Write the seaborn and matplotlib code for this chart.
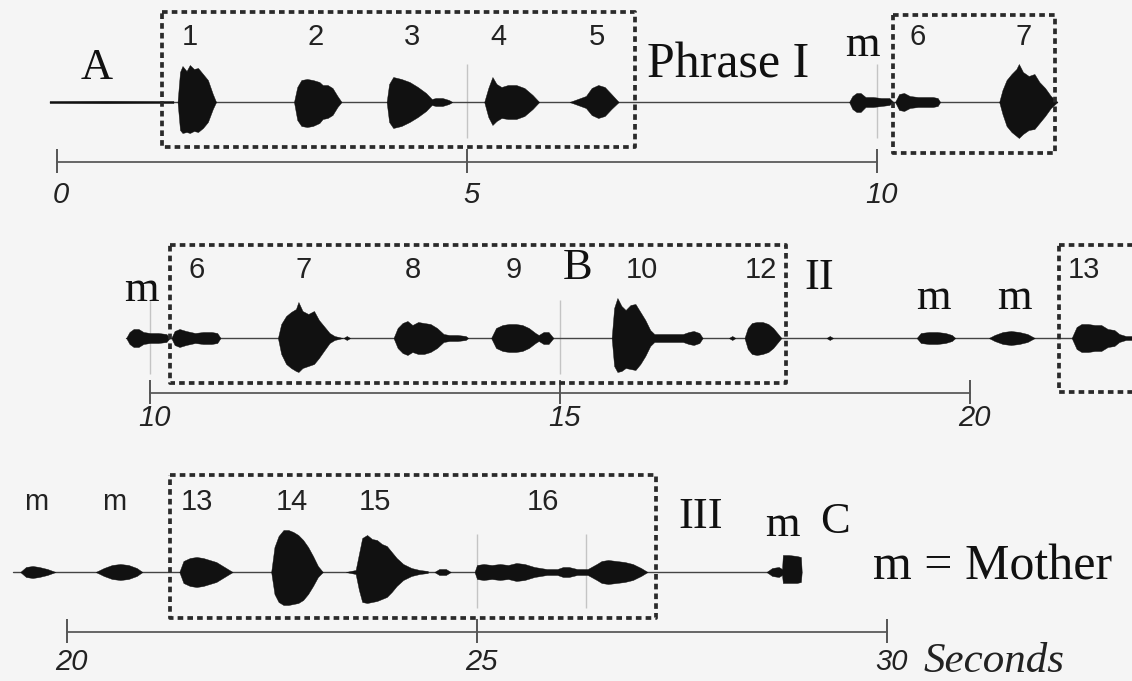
# pip install matplotlib seaborn numpy pandas
import matplotlib.pyplot as plt
import seaborn as sns

sns.set_theme(style="white")
plt.rcParams["font.family"] = ["Liberation Sans", "DejaVu Sans"]

# --- Sound envelopes: (time in s, upper amplitude, lower amplitude) ---
# amplitudes are relative units
row1_calls = [
    ([-0.09, 0.0, 0.6, 1.2, 1.42], [1.0, 1.0, 1.2, 1.0, 1.0], [1.0, 1.0, 1.2, 1.0, 1.0]),
    ([1.47, 1.50, 1.53, 1.58, 1.62, 1.67, 1.72, 1.78, 1.84, 1.90, 1.94],
     [0, 30, 36, 31, 37, 33, 34, 28, 22, 8, 0],
     [0, 28, 31, 30, 31, 29, 30, 26, 20, 7, 0]),
    ([2.89, 2.93, 2.98, 3.05, 3.12, 3.20, 3.24, 3.30, 3.36, 3.42, 3.47],
     [0, 15, 22, 23, 22, 20, 17, 17, 14, 6, 0],
     [0, 18, 24, 25, 24, 21, 17, 16, 13, 5, 0]),
    ([4.02, 4.05, 4.10, 4.20, 4.30, 4.40, 4.50, 4.57, 4.62, 4.70, 4.78, 4.82],
     [0, 18, 25, 23, 20, 15, 9, 3, 4, 4, 2, 0],
     [0, 20, 26, 24, 20, 15, 9, 3, 4, 4, 2, 0]),
    ([5.21, 5.26, 5.31, 5.36, 5.42, 5.50, 5.60, 5.70, 5.80, 5.88],
     [0, 14, 25, 18, 15, 17, 17, 14, 7, 0],
     [0, 15, 23, 19, 16, 17, 17, 14, 7, 0]),
    ([6.25, 6.35, 6.45, 6.52, 6.60, 6.68, 6.76, 6.85],
     [0, 3, 6, 14, 17, 15, 8, 0],
     [0, 3, 6, 13, 16, 14, 7, 0]),
    ([9.66, 9.70, 9.75, 9.80, 9.86, 9.95, 10.05, 10.15, 10.20],
     [0, 6, 9, 9, 5, 5, 4, 4, 0],
     [0, 7, 10, 10, 5, 5, 4, 3, 0]),
    ([10.22, 10.27, 10.33, 10.40, 10.50, 10.60, 10.68, 10.74, 10.77],
     [0, 8, 9, 6, 5, 5, 5, 4, 0],
     [0, 8, 9, 6, 5, 5, 5, 4, 0]),
    ([11.49, 11.53, 11.58, 11.64, 11.70, 11.73, 11.78, 11.85, 11.92, 11.98, 12.05, 12.12, 12.20],
     [0, 12, 22, 28, 33, 38, 30, 26, 28, 20, 14, 6, 0],
     [0, 12, 24, 30, 34, 36, 32, 28, 27, 21, 14, 6, 0]),
]

row2_calls = [
    ([9.71, 9.75, 9.80, 9.86, 9.92, 10.00, 10.10, 10.20, 10.24],
     [0, 6, 9, 9, 6, 5, 5, 4, 0],
     [0, 6, 9, 9, 6, 5, 5, 4, 0]),
    ([10.26, 10.30, 10.36, 10.44, 10.55, 10.65, 10.75, 10.82, 10.86],
     [0, 7, 9, 7, 5, 6, 6, 5, 0],
     [0, 7, 9, 7, 5, 6, 6, 5, 0]),
    ([11.56, 11.60, 11.66, 11.72, 11.78, 11.81, 11.86, 11.93, 12.00, 12.06, 12.12, 12.19, 12.25, 12.35],
     [0, 14, 22, 26, 29, 36, 27, 24, 27, 18, 12, 5, 2, 0],
     [0, 16, 26, 30, 33, 34, 30, 28, 26, 20, 13, 5, 2, 0]),
    ([12.36, 12.40, 12.44], [0, 2, 0], [0, 2, 0]),
    ([12.97, 13.02, 13.08, 13.14, 13.20, 13.27, 13.34, 13.42, 13.50, 13.58, 13.65, 13.75, 13.85, 13.88],
     [0, 10, 15, 17, 13, 16, 15, 14, 10, 4, 3, 3, 2, 0],
     [0, 10, 15, 17, 14, 16, 16, 14, 10, 4, 3, 3, 2, 0]),
    ([14.16, 14.22, 14.30, 14.38, 14.46, 14.54, 14.62, 14.70, 14.74, 14.80, 14.86, 14.92],
     [0, 10, 13, 14, 14, 13, 10, 5, 3, 6, 6, 0],
     [0, 10, 13, 14, 14, 13, 10, 5, 3, 6, 6, 0]),
    ([15.63, 15.66, 15.70, 15.75, 15.80, 15.86, 15.92, 15.98, 16.04, 16.10, 16.15, 16.30, 16.50, 16.57, 16.63, 16.70, 16.74],
     [0, 30, 40, 32, 28, 33, 34, 26, 18, 8, 4, 4, 4, 6, 7, 5, 0],
     [0, 28, 34, 33, 30, 31, 32, 26, 18, 8, 4, 4, 4, 6, 7, 5, 0]),
    ([17.06, 17.10, 17.14], [0, 2, 0], [0, 2, 0]),
    ([17.25, 17.29, 17.34, 17.40, 17.47, 17.54, 17.60, 17.66, 17.70],
     [0, 10, 15, 16, 16, 14, 10, 4, 0],
     [0, 11, 16, 17, 16, 14, 10, 4, 0]),
    ([18.25, 18.29, 18.33], [0, 2, 0], [0, 2, 0]),
    ([19.35, 19.40, 19.50, 19.60, 19.70, 19.78, 19.82],
     [0, 5, 6, 6, 5, 3, 0], [0, 5, 6, 6, 5, 3, 0]),
    ([20.23, 20.30, 20.40, 20.50, 20.60, 20.70, 20.79],
     [0, 3, 6, 7, 6, 4, 0], [0, 3, 6, 7, 6, 4, 0]),
    ([21.24, 21.30, 21.36, 21.44, 21.52, 21.60, 21.68, 21.76, 21.82, 21.90, 22.00],
     [0, 11, 14, 14, 13, 13, 9, 8, 4, 2, 2],
     [0, 11, 14, 14, 13, 13, 9, 8, 4, 2, 2]),
]

row3_calls = [
    ([19.43, 19.50, 19.58, 19.66, 19.76, 19.86], [0, 5, 6, 5, 3, 0], [0, 5, 6, 5, 3, 0]),
    ([20.35, 20.45, 20.55, 20.65, 20.75, 20.85, 20.92], [0, 4, 7, 8, 7, 4, 0], [0, 4, 7, 8, 7, 4, 0]),
    ([21.37, 21.42, 21.50, 21.58, 21.66, 21.74, 21.82, 21.90, 21.96, 22.02],
     [0, 11, 14, 15, 14, 12, 10, 6, 3, 0],
     [0, 11, 14, 15, 14, 12, 10, 6, 3, 0]),
    ([22.49, 22.53, 22.58, 22.64, 22.70, 22.76, 22.82, 22.88, 22.94, 23.00, 23.06, 23.12],
     [0, 25, 36, 42, 42, 40, 37, 32, 25, 16, 6, 0],
     [0, 22, 30, 33, 33, 32, 31, 28, 22, 14, 5, 0]),
    ([23.40, 23.52, 23.56, 23.60, 23.66, 23.72, 23.78, 23.84, 23.90, 23.96, 24.02, 24.10, 24.20, 24.30, 24.40],
     [0, 2, 18, 34, 37, 33, 32, 28, 26, 20, 14, 8, 4, 2, 1],
     [0, 2, 18, 30, 31, 30, 29, 27, 25, 20, 14, 8, 4, 2, 1]),
    ([24.48, 24.54, 24.62, 24.68], [0, 3, 3, 0], [0, 3, 3, 0]),
    ([24.97, 25.00, 25.08, 25.18, 25.28, 25.38, 25.48, 25.58, 25.70, 25.85, 25.98, 26.05, 26.12, 26.22,
      26.35, 26.46, 26.52, 26.60, 26.70, 26.80, 26.90, 27.00, 27.08],
     [0, 7, 8, 7, 8, 7, 9, 8, 5, 3, 3, 5, 5, 3, 3, 8, 11, 12, 11, 10, 8, 4, 0],
     [0, 7, 8, 7, 8, 7, 9, 8, 5, 3, 3, 5, 5, 3, 3, 8, 11, 12, 11, 10, 8, 4, 0]),
    ([28.53, 28.60, 28.68, 28.72, 28.73, 28.80, 28.90, 28.95, 28.96],
     [0, 4, 5, 3, 17, 17, 16, 15, 0],
     [0, 4, 5, 3, 11, 11, 11, 10, 0]),
]

# trace extent, time axis extent and tick values per row
row_trace = [(-0.09, 12.2), (9.71, 22.5), (19.34, 28.95)]
row_axis = [(0, 10), (10, 20), (20, 30)]
row_ticks = [[0, 5, 10], [10, 15, 20], [20, 25, 30]]
row_marks = [[5, 10], [10, 15], [25, 26.33]]

# phrase boxes: (start, end, top, bottom)
row_boxes = [
    [(1.28, 7.05, 90, -45), (10.2, 12.17, 87, -51)],
    [(10.24, 17.76, 93, -45), (21.09, 23.5, 93, -54)],
    [(21.26, 27.18, 97, -46)],
]

# call numbers (sans) and annotations (serif)
row_numbers = [
    [(1.62, "1"), (3.16, "2"), (4.33, "3"), (5.38, "4"), (6.59, "5"), (10.5, "6"), (11.79, "7")],
    [(10.57, "6"), (11.87, "7"), (13.2, "8"), (14.44, "9"), (16.0, "10"), (17.45, "12"), (21.39, "13")],
    [(19.62, "m"), (20.57, "m"), (21.59, "13"), (22.74, "14"), (23.76, "15"), (25.8, "16")],
]
row_notes = [
    [(0.48, 34, "A", "center"), (7.2, 37, "Phrase I", "left"), (9.82, 57, "m", "center")],
    [(9.89, 48, "m", "center"), (15.22, 70, "B", "center"), (18.16, 60, "II", "center"),
     (19.56, 40, "m", "center"), (20.54, 40, "m", "center")],
    [(27.73, 55, "III", "center"), (28.73, 47, "m", "center"), (29.37, 50, "C", "center"),
     (29.83, 5, "m = Mother", "left")],
]

# figure layout in pixels: top, bottom, baseline of each row; px per second
W, H = 1132, 681
PX_PER_S = 82.0
row_px = [(0, 227, 102, 57, 0), (227, 455, 338, 150, 10), (455, 681, 572, 67, 20)]
axis_off = [-60, -55, -60]
label_off = [-93, -80, -90]
number_y = [65, 68, 70]

serif = ["Liberation Serif", "DejaVu Serif"]
ink = "#111111"

fig = plt.figure(figsize=(W / 100, H / 100), dpi=100)
fig.patch.set_facecolor("#f5f5f5")
all_calls = [row1_calls, row2_calls, row3_calls]

for i, (top, bot, base, x0px, t0) in enumerate(row_px):
    ax = fig.add_axes([0, 1 - bot / H, 1, (bot - top) / H])
    ax.set_facecolor("#f5f5f5")
    ax.set_xlim(t0 - x0px / PX_PER_S, t0 + (W - x0px) / PX_PER_S)
    ax.set_ylim(-(bot - base), base - top)
    ax.axis("off")

    # faint cursor lines behind the trace
    for m in row_marks[i]:
        ax.vlines(m, -36, 38, color="#c4c4c4", lw=1, zorder=1)

    # baseline of the oscillogram
    sns.lineplot(x=list(row_trace[i]), y=[0, 0], ax=ax, color="#444444", lw=1, zorder=2)

    for t, up, lo in all_calls[i]:
        ax.fill_between(t, up, [-v for v in lo], color=ink, lw=0.3, edgecolor=ink, zorder=3)

    for s, e, y1, y2 in row_boxes[i]:
        ax.plot([s, e, e, s, s], [y1, y1, y2, y2, y1], color="#2a2a2a", lw=2.7,
                linestyle=(0, (1.5, 1.1)), zorder=4, clip_on=False)

    # time axis
    a0, a1 = row_axis[i]
    ya = axis_off[i]
    sns.lineplot(x=[a0, a1], y=[ya, ya], ax=ax, color="#666666", lw=1.4, zorder=2)
    for tk in row_ticks[i]:
        ax.vlines(tk, ya - 11, ya + 13, color="#555555", lw=1.4)
        ax.text(tk + 0.05, label_off[i], str(tk), ha="center", va="center",
                fontsize=21, style="italic", color="#222222")

    for t, s in row_numbers[i]:
        ax.text(t, number_y[i], s, ha="center", va="center", fontsize=21, color="#222222")

    for t, y, s, ha in row_notes[i]:
        fs = {"Phrase I": 36, "m = Mother": 36}.get(s, 32)
        ax.text(t, y, s, ha=ha, va="center", fontsize=fs, family=serif, color="#111111")

    if i == 2:
        ax.text(30.44, label_off[i], "Seconds", ha="left", va="center", fontsize=31,
                family=serif, style="italic", color="#222222")

fig.savefig("out.png", dpi=100, facecolor=fig.get_facecolor())
